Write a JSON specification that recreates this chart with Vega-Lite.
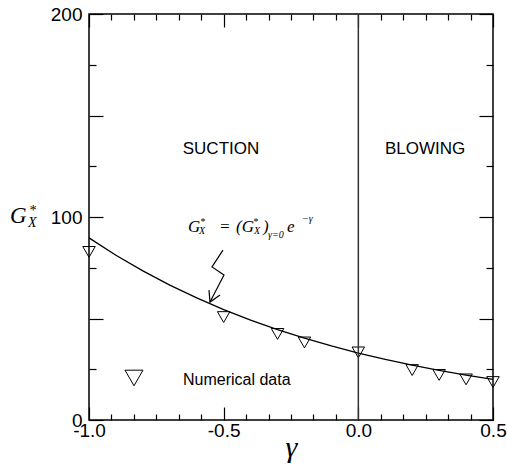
{
  "$schema": "https://vega.github.io/schema/vega-lite/v6.json",
  "width": 404,
  "height": 406,
  "autosize": {"type": "none"},
  "padding": {"left": 89, "top": 14, "right": 14, "bottom": 47},
  "background": "white",
  "config": {
    "view": {"stroke": "black", "strokeWidth": 1.5},
    "axis": {"domain": false, "grid": false, "tickColor": "black", "tickWidth": 1.2, "labelFont": "Liberation Sans", "labelFontSize": 19, "labelColor": "black"}
  },
  "datasets": {
    "curve": [
      {"x": -1.0, "y": 89.70}, {"x": -0.9, "y": 81.16}, {"x": -0.8, "y": 73.44}, {"x": -0.7, "y": 66.45},
      {"x": -0.6, "y": 60.13}, {"x": -0.5, "y": 54.41}, {"x": -0.4, "y": 49.23}, {"x": -0.3, "y": 44.55},
      {"x": -0.2, "y": 40.31}, {"x": -0.1, "y": 36.47}, {"x": 0.0, "y": 33.00}, {"x": 0.1, "y": 29.86},
      {"x": 0.2, "y": 27.02}, {"x": 0.3, "y": 24.45}, {"x": 0.4, "y": 22.12}, {"x": 0.5, "y": 20.02}
    ],
    "points": [
      {"x": -1.0, "y": 82.8}, {"x": -0.5, "y": 50.7}, {"x": -0.3, "y": 42.4}, {"x": -0.2, "y": 38.2},
      {"x": 0.0, "y": 33.3}, {"x": 0.2, "y": 24.6}, {"x": 0.3, "y": 22.2}, {"x": 0.4, "y": 20.0}, {"x": 0.5, "y": 18.7}
    ],
    "arrow": [
      {"seg": "zig", "o": 1, "x": -0.5025, "y": 83.7},
      {"seg": "zig", "o": 2, "x": -0.5433, "y": 75.4},
      {"seg": "zig", "o": 3, "x": -0.4988, "y": 71.4},
      {"seg": "zig", "o": 4, "x": -0.5507, "y": 58.1},
      {"seg": "head", "o": 1, "x": -0.5545, "y": 64.0},
      {"seg": "head", "o": 2, "x": -0.5507, "y": 58.1},
      {"seg": "head", "o": 3, "x": -0.5136, "y": 61.6}
    ],
    "regions": [
      {"x": -0.5099, "y": 133.5, "label": "SUCTION"},
      {"x": 0.2476, "y": 133.5, "label": "BLOWING"}
    ],
    "legendText": [{"x": -0.651, "y": 19.7, "label": "Numerical data"}],
    "legendMark": [{"x": -0.8329, "y": 20.7}],
    "eqBig": [
      {"x": -0.6324, "y": 92.6, "t": "G"},
      {"x": -0.5173, "y": 92.6, "t": "="},
      {"x": -0.4542, "y": 92.6, "t": "(G"},
      {"x": -0.354, "y": 92.6, "t": ")"},
      {"x": -0.2648, "y": 92.6, "t": "e"}
    ],
    "eqSmall": [
      {"x": -0.5879, "y": 96.2, "t": "*"},
      {"x": -0.5916, "y": 91.6, "t": "X"},
      {"x": -0.3911, "y": 96.2, "t": "*"},
      {"x": -0.3874, "y": 91.6, "t": "X"},
      {"x": -0.3354, "y": 89.7, "t": "γ=0"},
      {"x": -0.2092, "y": 97.5, "t": "−γ"}
    ],
    "ytBig": [{"x": -1.2933, "y": 97.04, "t": "G"}],
    "ytSmall": [
      {"x": -1.2228, "y": 101.2, "t": "*"},
      {"x": -1.2265, "y": 95.1, "t": "X"}
    ],
    "zero": [{"x": 0}]
  },
  "resolve": {"axis": {"x": "independent", "y": "independent"}},
  "layer": [
    {
      "data": {"name": "curve"},
      "mark": {"type": "line", "color": "black", "strokeWidth": 1.3},
      "encoding": {
        "x": {
          "field": "x", "type": "quantitative",
          "scale": {"domain": [-1, 0.5], "nice": false, "zero": false},
          "axis": {
            "orient": "bottom",
            "values": [-1, -0.9166667, -0.8333333, -0.75, -0.6666667, -0.5833333, -0.5, -0.4166667, -0.3333333, -0.25, -0.1666667, -0.0833333, 0, 0.0833333, 0.1666667, 0.25, 0.3333333, 0.4166667, 0.5],
            "tickSize": {"condition": {"test": "abs(datum.value*2-round(datum.value*2))<0.001", "value": -13}, "value": -6},
            "labelExpr": "abs(datum.value*2-round(datum.value*2))<0.001 ? replace(format(datum.value,'.1f'),'−','-') : ''",
            "labelPadding": 14,
            "labelFlush": false,
            "labelOverlap": false,
            "title": "γ",
            "titleFont": "Liberation Serif",
            "titleFontStyle": "italic",
            "titleFontWeight": "normal",
            "titleFontSize": 30,
            "titleColor": "black",
            "titleBaseline": "alphabetic",
            "titleAlign": "center",
            "titleX": 202,
            "titleY": 36
          }
        },
        "y": {
          "field": "y", "type": "quantitative",
          "scale": {"domain": [0, 200], "nice": false},
          "axis": {
            "orient": "left",
            "values": [0, 25, 50, 75, 100, 125, 150, 175, 200],
            "tickSize": {"condition": {"test": "datum.value % 50 === 0", "value": -14}, "value": -7},
            "labelExpr": "datum.value % 100 === 0 ? datum.label : ''",
            "labelPadding": 21,
            "labelFlush": false,
            "labelOverlap": false,
            "title": null
          }
        }
      }
    },
    {
      "data": {"name": "points"},
      "mark": {"type": "point", "shape": "triangle-down", "filled": false, "stroke": "black", "strokeWidth": 1, "size": 156, "opacity": 1},
      "encoding": {
        "x": {
          "field": "x", "type": "quantitative",
          "axis": {
            "orient": "top",
            "values": [-1, -0.9166667, -0.8333333, -0.75, -0.6666667, -0.5833333, -0.5, -0.4166667, -0.3333333, -0.25, -0.1666667, -0.0833333, 0, 0.0833333, 0.1666667, 0.25, 0.3333333, 0.4166667, 0.5],
            "tickSize": {"condition": {"test": "abs(datum.value*2-round(datum.value*2))<0.001", "value": -13}, "value": -6},
            "labels": false,
            "title": null
          }
        },
        "y": {
          "field": "y", "type": "quantitative",
          "axis": {
            "orient": "right",
            "values": [0, 25, 50, 75, 100, 125, 150, 175, 200],
            "tickSize": {"condition": {"test": "datum.value % 50 === 0", "value": -14}, "value": -7},
            "labels": false,
            "title": null
          }
        }
      }
    },
    {
      "data": {"name": "zero"},
      "mark": {"type": "rule", "color": "#333333", "strokeWidth": 1.5},
      "encoding": {"x": {"field": "x", "type": "quantitative", "axis": null}}
    },
    {
      "data": {"name": "arrow"},
      "mark": {"type": "line", "color": "black", "strokeWidth": 1.2},
      "encoding": {
        "x": {"field": "x", "type": "quantitative", "axis": null},
        "y": {"field": "y", "type": "quantitative", "axis": null},
        "detail": {"field": "seg"},
        "order": {"field": "o", "type": "quantitative"}
      }
    },
    {
      "data": {"name": "regions"},
      "mark": {"type": "text", "font": "Liberation Sans", "fontSize": 17, "align": "center", "baseline": "middle", "color": "black"},
      "encoding": {
        "x": {"field": "x", "type": "quantitative", "axis": null},
        "y": {"field": "y", "type": "quantitative", "axis": null},
        "text": {"field": "label"}
      }
    },
    {
      "data": {"name": "legendText"},
      "mark": {"type": "text", "font": "Liberation Sans", "fontSize": 16, "align": "left", "baseline": "middle", "color": "black"},
      "encoding": {
        "x": {"field": "x", "type": "quantitative", "axis": null},
        "y": {"field": "y", "type": "quantitative", "axis": null},
        "text": {"field": "label"}
      }
    },
    {
      "data": {"name": "legendMark"},
      "mark": {"type": "point", "shape": "triangle-down", "filled": false, "stroke": "black", "strokeWidth": 1, "size": 324, "opacity": 1},
      "encoding": {
        "x": {"field": "x", "type": "quantitative", "axis": null},
        "y": {"field": "y", "type": "quantitative", "axis": null}
      }
    },
    {
      "data": {"name": "eqBig"},
      "mark": {"type": "text", "font": "Liberation Serif", "fontStyle": "italic", "fontSize": 17, "align": "left", "baseline": "alphabetic", "color": "black"},
      "encoding": {
        "x": {"field": "x", "type": "quantitative", "axis": null},
        "y": {"field": "y", "type": "quantitative", "axis": null},
        "text": {"field": "t"}
      }
    },
    {
      "data": {"name": "eqSmall"},
      "mark": {"type": "text", "font": "Liberation Serif", "fontStyle": "italic", "fontSize": 10, "align": "left", "baseline": "alphabetic", "color": "black"},
      "encoding": {
        "x": {"field": "x", "type": "quantitative", "axis": null},
        "y": {"field": "y", "type": "quantitative", "axis": null},
        "text": {"field": "t"}
      }
    },
    {
      "data": {"name": "ytBig"},
      "mark": {"type": "text", "font": "Liberation Serif", "fontStyle": "italic", "fontSize": 23, "align": "left", "baseline": "alphabetic", "color": "black"},
      "encoding": {
        "x": {"field": "x", "type": "quantitative", "axis": null},
        "y": {"field": "y", "type": "quantitative", "axis": null},
        "text": {"field": "t"}
      }
    },
    {
      "data": {"name": "ytSmall"},
      "mark": {"type": "text", "font": "Liberation Serif", "fontStyle": "italic", "fontSize": 14, "align": "left", "baseline": "alphabetic", "color": "black"},
      "encoding": {
        "x": {"field": "x", "type": "quantitative", "axis": null},
        "y": {"field": "y", "type": "quantitative", "axis": null},
        "text": {"field": "t"}
      }
    }
  ]
}
